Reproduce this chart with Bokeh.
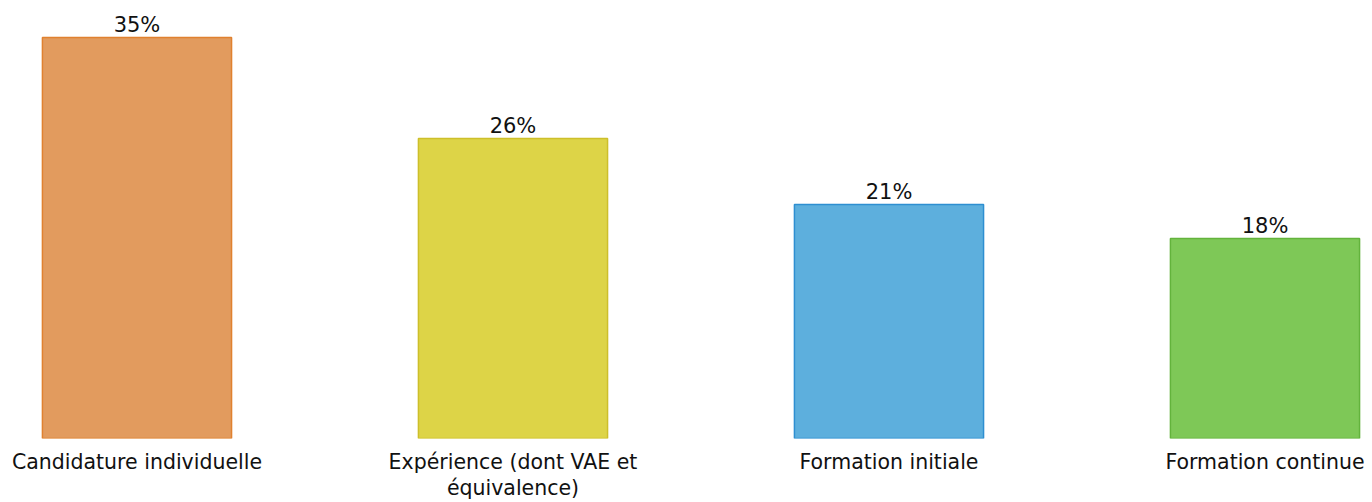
from bokeh.plotting import figure
from bokeh.models import ColumnDataSource, FixedTicker, LabelSet
from bokeh.core.properties import value
from bokeh.embed import file_html
from bokeh.resources import INLINE

categories = ["Candidature individuelle", "Expérience (dont VAE et\néquivalence)",
              "Formation initiale", "Formation continue"]
values = [35.3, 26.4, 20.6, 17.6]
value_labels = ["35%", "26%", "21%", "18%"]
fills = ["#E29B5E", "#DDD447", "#5DAFDD", "#7EC857"]
borders = ["#E0812F", "#CDBF2A", "#2E8FD1", "#63B33C"]

xs = list(range(len(categories)))
src = ColumnDataSource(dict(x=xs, top=values, lab=value_labels, fill=fills, line=borders))

p = figure(width=1372, height=502, output_backend="svg", toolbar_location=None,
           x_range=(-0.3630, 3.2859), y_range=(0, 38.56),
           min_border_left=0, min_border_right=0, min_border_top=0, min_border_bottom=64)
p.vbar(x="x", top="top", width=0.503, bottom=0, source=src,
       fill_color="fill", line_color="line", line_width=1.5)

labels = LabelSet(x="x", y="top", text="lab", source=src, text_align="center",
                  text_baseline="bottom", y_offset=1, text_font=value("DejaVu Sans"),
                  text_font_size="21px", text_color="#111111")
p.add_layout(labels)

p.outline_line_color = None
p.grid.visible = False
p.yaxis.visible = False
p.xaxis.ticker = FixedTicker(ticks=xs)
p.xaxis.major_label_overrides = {i: c for i, c in enumerate(categories)}
p.xaxis.axis_line_color = None
p.xaxis.major_tick_line_color = None
p.xaxis.minor_tick_line_color = None
p.xaxis.major_tick_out = 0
p.xaxis.major_label_standoff = 11
p.xaxis.major_label_text_font = "DejaVu Sans"
p.xaxis.major_label_text_font_size = "20.5px"
p.xaxis.major_label_text_line_height = 1.1
p.xaxis.major_label_text_color = "#111111"
p.xaxis.major_label_text_align = "center"

open("out.html", "w").write(file_html(p, INLINE))
